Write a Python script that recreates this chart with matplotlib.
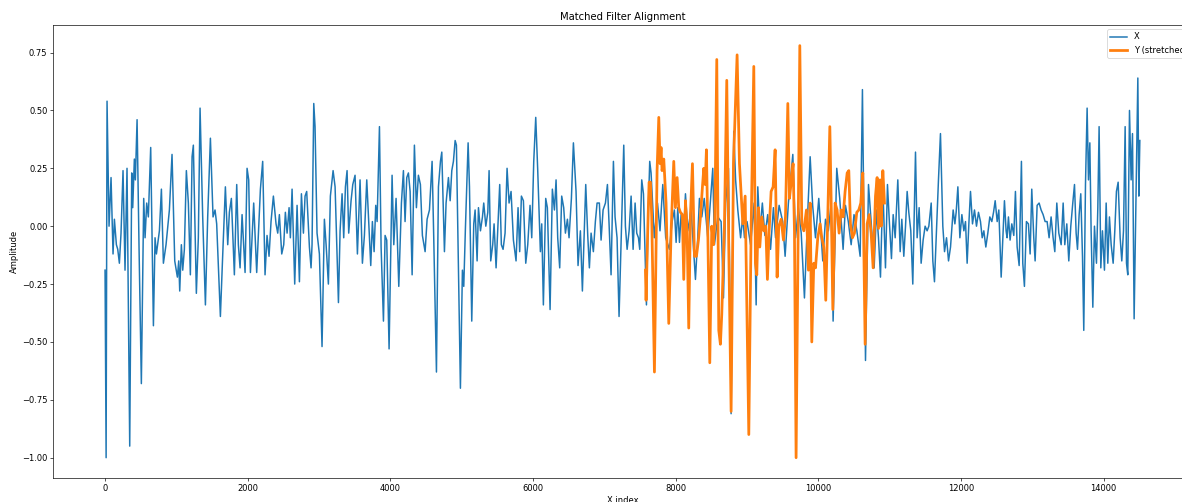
import numpy as np
import matplotlib
matplotlib.use("Agg")
import matplotlib.pyplot as plt

# ---- Signal X : (sample index, amplitude) ----
x_idx = [
    0, 15, 28, 56, 84, 112, 131, 159, 178, 201, 224, 252, 280, 308, 346, 374, 388, 411, 425, 449,
    477, 509, 542, 561, 584, 607, 640, 678, 701, 720, 762, 790, 818, 855, 902, 939, 977, 1014, 1033, 1047,
    1070, 1089, 1112, 1140, 1168, 1196, 1220, 1238, 1280, 1308, 1332, 1369, 1407, 1439, 1477, 1514, 1542, 1565, 1617, 1645,
    1687, 1720, 1743, 1771, 1813, 1846, 1869, 1893, 1921, 1963, 1991, 2014, 2038, 2084, 2126, 2178, 2210, 2243, 2271, 2299,
    2327, 2360, 2397, 2421, 2444, 2477, 2505, 2528, 2552, 2580, 2598, 2622, 2659, 2692, 2725, 2753, 2781, 2804, 2827, 2865,
    2888, 2902, 2926, 2944, 2972, 3005, 3042, 3075, 3099, 3131, 3159, 3197, 3225, 3272, 3295, 3323, 3346, 3370, 3393, 3416,
    3449, 3473, 3505, 3538, 3575, 3608, 3636, 3669, 3697, 3725, 3748, 3772, 3795, 3814, 3847, 3870, 3903, 3926, 3949, 3982,
    4024, 4048, 4080, 4118, 4155, 4183, 4206, 4230, 4253, 4277, 4305, 4337, 4365, 4393, 4421, 4449, 4487, 4515, 4548, 4585,
    4608, 4646, 4674, 4702, 4721, 4758, 4781, 4814, 4838, 4861, 4884, 4908, 4926, 4982, 5010, 5029, 5052, 5090, 5109, 5141,
    5169, 5188, 5216, 5235, 5263, 5291, 5309, 5338, 5366, 5384, 5407, 5435, 5454, 5482, 5505, 5533, 5556, 5580, 5608, 5636,
    5664, 5692, 5725, 5762, 5790, 5813, 5837, 5865, 5898, 5926, 5958, 5982, 6010, 6038, 6066, 6103, 6122, 6145, 6178, 6201,
    6239, 6271, 6300, 6323, 6346, 6374, 6402, 6430, 6454, 6482, 6505, 6538, 6566, 6603, 6631, 6664, 6692, 6739, 6767, 6790,
    6814, 6846, 6874, 6898, 6930, 6954, 6982, 7015, 7043, 7066, 7094, 7127, 7150, 7178, 7206, 7244, 7272, 7295, 7319, 7347,
    7375, 7403, 7431, 7454, 7478, 7496, 7524, 7548, 7576, 7590, 7613, 7636, 7655, 7700, 7745, 7780, 7819, 7860, 7912, 7950,
    7982, 8006, 8029, 8053, 8076, 8110, 8137, 8169, 8216, 8277, 8309, 8333, 8366, 8400, 8450, 8520, 8543, 8590, 8637, 8670,
    8700, 8740, 8777, 8814, 8840, 8871, 8910, 8941, 8964, 9000, 9050, 9100, 9128, 9151, 9180, 9215, 9250, 9290, 9330, 9370,
    9400, 9450, 9500, 9534, 9580, 9642, 9680, 9720, 9760, 9805, 9850, 9885, 9920, 9960, 10006, 10062, 10100, 10140, 10180, 10207,
    10258, 10300, 10347, 10380, 10420, 10460, 10500, 10540, 10586, 10618, 10661, 10703, 10740, 10782, 10815, 10843, 10871, 10904, 10941, 10969,
    10997, 11025, 11049, 11077, 11114, 11147, 11170, 11198, 11222, 11245, 11268, 11296, 11324, 11362, 11385, 11413, 11441, 11469, 11497, 11525,
    11549, 11582, 11605, 11628, 11661, 11684, 11712, 11745, 11769, 11797, 11825, 11853, 11890, 11914, 11932, 11956, 11984, 12012, 12040, 12063,
    12086, 12110, 12133, 12161, 12189, 12217, 12245, 12273, 12297, 12320, 12348, 12376, 12404, 12432, 12456, 12479, 12507, 12530, 12563, 12591,
    12609, 12632, 12646, 12665, 12688, 12712, 12740, 12763, 12787, 12815, 12847, 12866, 12889, 12917, 12945, 12969, 12992, 13020, 13039, 13067,
    13095, 13123, 13151, 13179, 13207, 13235, 13263, 13291, 13315, 13343, 13371, 13404, 13432, 13455, 13483, 13511, 13539, 13567, 13591, 13614,
    13633, 13656, 13679, 13703, 13721, 13745, 13768, 13787, 13806, 13824, 13848, 13871, 13899, 13918, 13936, 13960, 13983, 14011, 14035, 14058,
    14081, 14105, 14133, 14156, 14179, 14203, 14231, 14254, 14278, 14301, 14320, 14338, 14362, 14385, 14404, 14427, 14446, 14464, 14479, 14493,
    14507,
]
x_val = [
    -0.19, -1.00, 0.54, 0.00, 0.21, -0.12, 0.03, -0.08, -0.10, -0.16, -0.03, 0.24, -0.19, 0.25, -0.95, 0.23, 0.08, 0.29, 0.20, 0.46,
    -0.10, -0.68, 0.12, -0.05, 0.10, 0.04, 0.34, -0.43, -0.05, -0.12, -0.02, 0.16, -0.16, -0.08, 0.07, 0.31, -0.15, -0.22, -0.15, -0.28,
    -0.08, -0.19, -0.10, 0.24, 0.10, -0.21, 0.30, 0.35, -0.29, -0.05, 0.51, 0.04, -0.34, 0.04, 0.38, 0.04, 0.07, 0.01, -0.39, -0.16,
    0.17, -0.08, 0.06, 0.12, -0.21, 0.18, -0.08, -0.18, 0.05, -0.20, 0.25, 0.20, -0.20, 0.10, -0.20, 0.16, 0.28, -0.21, -0.04, -0.13,
    0.02, 0.13, 0.01, -0.03, 0.05, -0.12, -0.08, 0.06, -0.03, 0.08, -0.05, 0.16, -0.25, 0.09, -0.24, 0.14, -0.03, 0.13, 0.15, -0.09,
    -0.18, -0.08, 0.53, 0.43, -0.03, -0.12, -0.52, 0.03, -0.08, -0.25, 0.13, 0.24, 0.17, -0.33, -0.02, 0.14, -0.05, 0.17, 0.24, -0.03,
    0.11, 0.18, 0.22, -0.12, 0.20, -0.16, -0.04, 0.20, 0.01, -0.17, 0.02, -0.11, 0.09, 0.02, 0.43, -0.09, -0.41, -0.04, -0.06, -0.53,
    0.22, -0.08, 0.12, -0.26, 0.10, 0.24, 0.02, 0.21, 0.23, 0.15, -0.21, 0.35, 0.08, 0.22, 0.18, -0.04, -0.11, 0.03, 0.07, 0.28,
    -0.05, -0.63, 0.17, 0.28, 0.32, -0.11, 0.10, 0.21, 0.11, 0.24, 0.28, 0.37, 0.35, -0.70, -0.19, -0.26, -0.01, 0.36, 0.17, -0.41,
    0.01, 0.07, -0.15, 0.08, -0.02, 0.04, 0.10, 0.00, 0.06, 0.24, -0.15, -0.08, 0.01, -0.18, -0.02, 0.18, -0.08, -0.10, -0.03, 0.25,
    0.10, 0.15, -0.06, -0.15, 0.08, -0.11, 0.13, 0.11, -0.16, -0.08, 0.09, -0.05, 0.28, 0.47, 0.24, -0.11, 0.01, -0.34, 0.12, 0.08,
    -0.36, 0.16, 0.07, 0.20, -0.05, -0.18, 0.13, 0.08, -0.03, 0.03, -0.05, 0.12, 0.36, 0.15, -0.17, -0.02, -0.28, 0.18, -0.04, -0.18,
    -0.03, -0.11, 0.02, 0.10, 0.10, -0.06, 0.07, 0.10, 0.18, 0.01, -0.21, 0.28, 0.04, -0.05, -0.39, 0.04, 0.35, 0.00, -0.10, -0.02,
    0.13, -0.10, 0.10, -0.03, -0.05, -0.10, 0.20, 0.14, -0.19, -0.34, 0.04, 0.28, 0.23, -0.05, 0.10, -0.02, 0.18, -0.05, -0.10, 0.02,
    0.07, -0.07, 0.08, -0.07, 0.05, -0.04, 0.14, -0.02, 0.07, -0.23, -0.05, 0.12, 0.04, 0.12, -0.05, 0.25, -0.08, 0.04, 0.02, -0.31,
    0.10, 0.25, -0.81, 0.41, 0.20, 0.07, -0.05, 0.04, -0.05, 0.02, -0.08, 0.10, -0.34, 0.17, -0.02, 0.10, -0.04, 0.05, -0.10, 0.08,
    -0.05, 0.09, 0.02, -0.13, 0.10, 0.31, -0.05, 0.08, -0.03, -0.31, 0.05, 0.30, 0.09, -0.05, 0.12, -0.15, 0.03, -0.02, 0.10, -0.41,
    0.25, 0.12, -0.10, 0.09, 0.02, -0.08, 0.05, -0.02, -0.13, 0.59, -0.58, 0.18, 0.02, -0.18, 0.07, -0.05, -0.22, 0.17, -0.18, 0.18,
    0.01, -0.14, 0.05, -0.05, 0.20, -0.11, 0.03, -0.13, 0.00, 0.15, 0.06, -0.02, -0.25, 0.32, -0.05, 0.08, -0.16, -0.06, 0.00, -0.02,
    0.00, 0.10, -0.15, -0.24, 0.02, 0.20, 0.40, 0.00, -0.11, -0.05, -0.15, -0.09, 0.07, 0.01, 0.06, 0.17, -0.05, 0.05, -0.02, 0.02,
    -0.16, 0.01, 0.15, 0.01, 0.07, 0.00, 0.06, 0.02, -0.05, -0.02, -0.09, -0.03, 0.04, 0.02, 0.06, 0.11, 0.02, 0.07, -0.22, -0.02,
    0.11, -0.02, -0.05, 0.04, -0.06, 0.01, -0.04, 0.15, -0.09, -0.17, 0.28, -0.16, -0.26, 0.02, 0.01, -0.12, 0.16, -0.05, -0.15, 0.09,
    0.10, 0.07, 0.05, 0.02, 0.02, -0.05, 0.04, -0.05, -0.11, 0.10, -0.03, -0.08, 0.10, -0.08, 0.01, -0.15, 0.00, 0.10, 0.18, -0.03,
    -0.10, 0.05, 0.14, -0.13, -0.45, 0.18, 0.51, 0.20, 0.36, -0.02, -0.35, 0.00, -0.16, 0.08, 0.43, -0.18, -0.02, -0.19, 0.10, -0.16,
    0.04, -0.08, -0.16, -0.02, 0.15, 0.19, -0.05, -0.15, -0.02, 0.43, -0.16, -0.21, 0.50, 0.20, 0.40, -0.40, -0.02, 0.31, 0.64, 0.13,
    0.37,
]

# ---- Signal Y (stretched) : (sample index, amplitude) ----
y_idx = [
    7576, 7585, 7608, 7627, 7646, 7664, 7702, 7739, 7763, 7781, 7795, 7809, 7833, 7865, 7903, 7936, 7973, 7996, 8020, 8043,
    8066, 8094, 8113, 8137, 8160, 8183, 8207, 8235, 8263, 8291, 8319, 8347, 8375, 8394, 8413, 8431, 8450, 8478, 8506, 8529,
    8548, 8576, 8604, 8627, 8646, 8683, 8716, 8744, 8777, 8810, 8861, 8894, 8941, 8974, 9025, 9057, 9095, 9118, 9137, 9160,
    9179, 9207, 9235, 9263, 9286, 9310, 9338, 9366, 9394, 9422, 9445, 9478, 9511, 9539, 9572, 9595, 9623, 9646, 9665, 9688,
    9717, 9740, 9768, 9796, 9833, 9861, 9885, 9908, 9936, 9960, 9992, 10025, 10048, 10076, 10104, 10132, 10161, 10179, 10203, 10235,
    10263, 10291, 10319, 10347, 10375, 10404, 10427, 10450, 10478, 10506, 10539, 10567, 10595, 10623, 10656, 10684, 10712, 10740, 10768, 10801,
    10824, 10843, 10866, 10880, 10904, 10927,
]
y_val = [
    -0.19, -0.32, -0.02, 0.19, 0.19, 0.04, -0.63, 0.24, 0.47, 0.27, 0.34, 0.24, 0.29, 0.10, -0.42, -0.02, 0.28, 0.08, 0.21, 0.08,
    0.06, 0.05, -0.23, 0.11, -0.02, -0.44, 0.05, 0.27, -0.13, -0.13, -0.06, 0.04, 0.17, 0.25, 0.18, 0.33, -0.02, -0.59, 0.00, -0.08,
    0.02, 0.72, -0.45, -0.51, -0.38, 0.00, 0.63, -0.09, -0.80, 0.27, 0.74, 0.27, 0.01, 0.13, -0.90, -0.02, 0.69, -0.16, -0.21, 0.08,
    -0.09, 0.04, -0.02, 0.00, -0.23, -0.02, 0.15, 0.17, 0.33, -0.22, 0.00, 0.03, -0.06, 0.04, 0.53, 0.12, 0.20, 0.27, -0.02, -1.00,
    -0.02, 0.78, 0.01, -0.02, 0.07, -0.19, 0.10, -0.50, -0.16, -0.18, -0.05, 0.01, -0.05, -0.09, -0.32, 0.04, 0.43, 0.12, -0.36, 0.10,
    0.07, -0.03, 0.07, 0.04, 0.15, 0.23, 0.24, 0.01, -0.05, -0.03, 0.06, 0.07, 0.10, 0.23, -0.51, 0.01, 0.05, -0.03, -0.18, 0.13,
    0.21, -0.01, 0.20, 0.00, 0.24, 0.10,
]

title = "Matched Filter Alignment"
xlabel = "X index"
ylabel = "Amplitude"
labels = ["X", "Y (stretched)"]

DPI = 60
fig = plt.figure(figsize=(1182 / DPI, 502 / DPI), dpi=DPI)
ax = fig.add_axes([0.0451, 0.0472, 0.963, 0.903])

ax.plot(x_idx, x_val, color="#1f77b4", lw=1.8, label=labels[0])
ax.plot(y_idx, y_val, color="#ff7f0e", lw=3.3, label=labels[1])

ax.set_title(title)
ax.set_xlabel(xlabel)
ax.set_ylabel(ylabel)
ax.legend(loc="upper left", bbox_to_anchor=(0.922, 1.0))

fig.savefig("out.png", dpi=DPI)
